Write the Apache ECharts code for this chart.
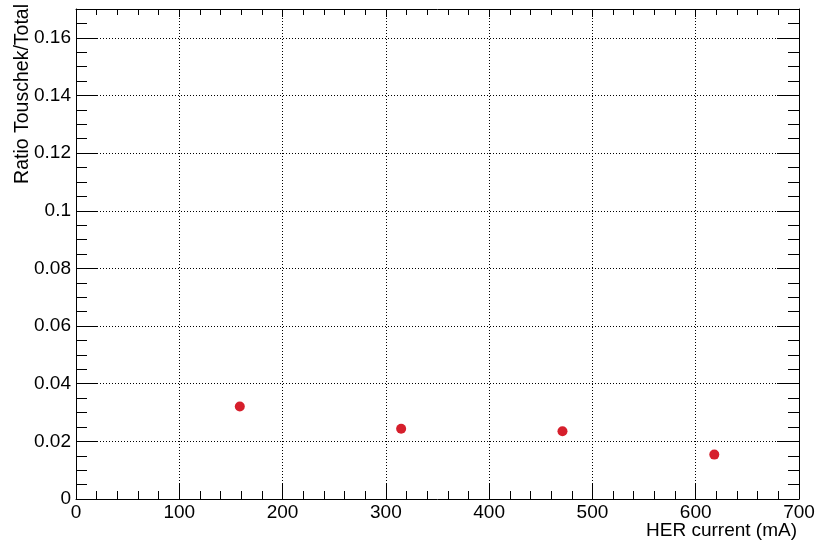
<!DOCTYPE html>
<html><head><meta charset="utf-8">
<script src="https://cdn.jsdelivr.net/npm/echarts@6/dist/echarts.min.js"></script>
<style>html,body{margin:0;padding:0;background:#fff}#c{width:818px;height:548px}</style>
</head><body><div id="c"></div>
<script>
const herCurrent = [158.6, 314.8, 471, 618];
const ratio = [0.0321, 0.0244, 0.0235, 0.0154];
const xTitle = 'HER current (mA)';
const yTitle = 'Ratio Touschek/Total';

const font = 'Liberation Sans, Arial, Helvetica, sans-serif';
const chart = echarts.init(document.getElementById('c'));
const lineStyle = {color: '#000', width: 1};
function xAx(pos, major, minor, labels, grid) {
  return {
    type: 'value', position: pos, min: 0, max: 700, interval: 100,
    axisLine: {show: true, onZero: false, lineStyle},
    axisTick: {show: true, inside: true, length: major, lineStyle},
    minorTick: {show: true, splitNumber: 5, length: minor, lineStyle},
    axisLabel: {show: labels, color: '#000', fontFamily: font, fontSize: 19, margin: 4},
    splitLine: {show: grid, lineStyle: {color: '#000', type: [1, 2], width: 1}}
  };
}
function yAx(pos, major, minor, labels, grid) {
  return {
    type: 'value', position: pos, min: 0, max: 0.17, interval: 0.02,
    axisLine: {show: true, onZero: false, lineStyle},
    axisTick: {show: true, inside: true, length: major, lineStyle},
    minorTick: {show: true, splitNumber: 4, length: minor, lineStyle},
    axisLabel: {show: labels, color: '#000', fontFamily: font, fontSize: 19, margin: 5,
      showMaxLabel: false, formatter: v => String(+v.toFixed(2))},
    splitLine: {show: grid, lineStyle: {color: '#000', type: [1, 2], width: 1}}
  };
}
chart.setOption({
  animation: false,
  grid: {left: 76, top: 9, right: 19, bottom: 49, containLabel: false},
  xAxis: [xAx('bottom', 15, 8, true, true), xAx('top', 8, 6, false, false)],
  yAxis: [yAx('left', 22, 11, true, true), yAx('right', 22, 11, false, false)],
  series: [{
    type: 'scatter', xAxisIndex: 0, yAxisIndex: 0,
    data: herCurrent.map((x, i) => [x, ratio[i]]),
    symbol: 'circle', symbolSize: 10,
    itemStyle: {color: '#d61f2c', opacity: 1}
  }],
  graphic: [
    {type: 'text', x: 797, y: 531,
     style: {text: xTitle, font: '19px ' + font, fill: '#000', textAlign: 'right', textVerticalAlign: 'middle'}},
    {type: 'text', x: 23, y: 4, rotation: Math.PI / 2,
     style: {text: yTitle, font: '19.5px ' + font, fill: '#000', textAlign: 'right', textVerticalAlign: 'middle'}}
  ]
});
</script></body></html>
